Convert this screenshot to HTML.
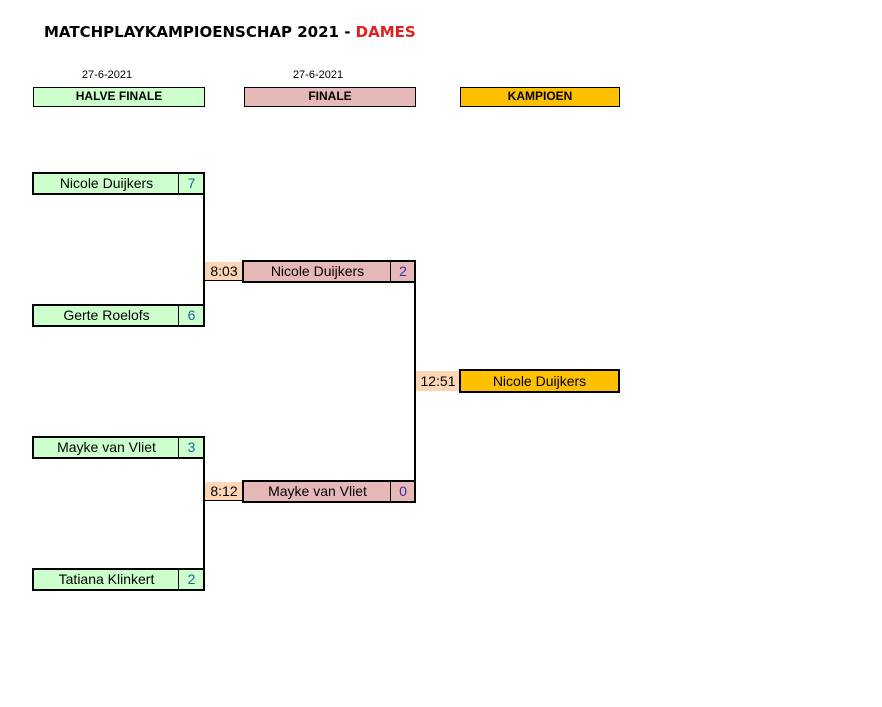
<!DOCTYPE html>
<html><head><meta charset="utf-8"><style>
body{margin:0;width:882px;height:707px;background:#fff;position:relative;overflow:hidden;font-family:"Liberation Sans",Arial,sans-serif}
.a{position:absolute;box-sizing:border-box;font-size:14px;color:#000;text-align:center;white-space:nowrap}
.b{border:2px solid #000}
.g{background:#ccffcc}.p{background:#e6b8b7}.o{background:#ffc000}.t{background:#fcd5b4}
.h{font-size:12px;font-weight:bold;line-height:16px;border:1px solid #000}
.d{font-size:11px}
.ln{position:absolute;background:#000}
.s{position:absolute;top:0;height:19px;border-left:1px solid #000;text-align:center}
</style></head><body>
<div class="a" style="left:44px;top:23px;font:bold 15px 'DejaVu Sans',sans-serif;text-align:left">MATCHPLAYKAMPIOENSCHAP 2021 - <span style="color:#e02020">DAMES</span></div>
<div class="a d" style="left:33px;top:69px;width:148px">27-6-2021</div>
<div class="a d" style="left:244px;top:69px;width:148px">27-6-2021</div>
<div class="a h g" style="left:33px;top:87px;width:172px;height:20px">HALVE FINALE</div>
<div class="a h p" style="left:244px;top:87px;width:172px;height:20px">FINALE</div>
<div class="a h o" style="left:460px;top:87px;width:160px;height:20px">KAMPIOEN</div>

<div class="ln" style="left:203px;top:183px;width:2px;height:132px"></div>
<div class="ln" style="left:203px;top:447px;width:2px;height:132px"></div>
<div class="ln" style="left:414px;top:271px;width:2px;height:220px"></div>

<div class="a b g" style="left:32px;top:172px;width:173px;height:23px;line-height:19px;text-align:left"><span style="display:inline-block;width:145px;text-align:center">Nicole Duijkers</span><span class="s" style="left:144px;width:25px;color:#1f5fa8">7</span></div>
<div class="a b g" style="left:32px;top:304px;width:173px;height:23px;line-height:19px;text-align:left"><span style="display:inline-block;width:145px;text-align:center">Gerte Roelofs</span><span class="s" style="left:144px;width:25px;color:#1f5fa8">6</span></div>
<div class="a b g" style="left:32px;top:436px;width:173px;height:23px;line-height:19px;text-align:left"><span style="display:inline-block;width:145px;text-align:center">Mayke van Vliet</span><span class="s" style="left:144px;width:25px;color:#1f5fa8">3</span></div>
<div class="a b g" style="left:32px;top:568px;width:173px;height:23px;line-height:19px;text-align:left"><span style="display:inline-block;width:145px;text-align:center">Tatiana Klinkert</span><span class="s" style="left:144px;width:25px;color:#1f5fa8">2</span></div>

<div class="a t" style="left:205px;top:262px;width:38px;height:19px;line-height:19px;border-bottom:1px solid #000">8:03</div>
<div class="a b p" style="left:242px;top:260px;width:174px;height:23px;line-height:19px;text-align:left"><span style="display:inline-block;width:147px;text-align:center">Nicole Duijkers</span><span class="s" style="left:146px;width:24px;color:#3333aa">2</span></div>
<div class="a t" style="left:205px;top:482px;width:38px;height:19px;line-height:19px;border-bottom:1px solid #000">8:12</div>
<div class="a b p" style="left:242px;top:480px;width:174px;height:23px;line-height:19px;text-align:left"><span style="display:inline-block;width:147px;text-align:center">Mayke van Vliet</span><span class="s" style="left:146px;width:24px;color:#3333aa">0</span></div>

<div class="a t" style="left:416px;top:371px;width:44px;height:20px;line-height:20px">12:51</div>
<div class="a b o" style="left:459px;top:369px;width:161px;height:24px;line-height:20px">Nicole Duijkers</div>
</body></html>
